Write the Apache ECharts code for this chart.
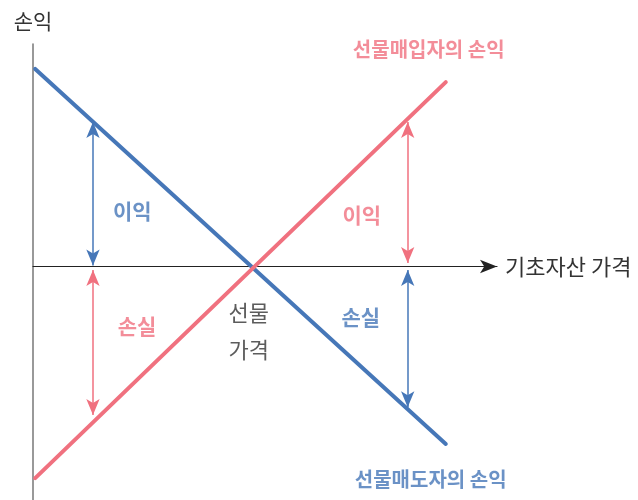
<!DOCTYPE html>
<html lang="ko">
<head>
    <meta charset="UTF-8">
    <title>선물 손익</title>
    <style>
        html, body { margin: 0; padding: 0; background: #fff; }
        #main { width: 638px; height: 500px; }
    </style>
</head>
<body>
<div id="main"></div>
<script src="https://cdn.jsdelivr.net/npm/echarts@6/dist/echarts.min.js"></script>
<script>
    // 기초자산 가격 (선 양 끝)
    var prices = [0.1, 18.86];
    // 선물매입자 / 선물매도자 손익
    var buyerPnl = [-9.66, 8.42];
    var sellerPnl = [9.02, -8.1];

    // 이익/손실 화살표 [x, 위, 아래]
    var blueArrows = [[2.74, 6.6, 0.05], [17.12, -0.16, -6.42]];
    var redArrows = [[2.74, -0.16, -6.78], [17.12, 6.6, 0.16]];

    // 글자 [text, x, y]
    var blueNotes = [['이익', 4.54, 2.55], ['손실', 14.98, -2.3]];
    var redNotes = [['손실', 4.75, -2.72], ['이익', 15.02, 2.35]];
    var sellerTitle = [['선물매도자의 손익', 18.17, -9.7]];
    var buyerTitle = [['선물매입자의 손익', 18.08, 9.9]];
    var blackNotes = [['선물\n가격', 9.86, -2.97]];

    var BLUE = '#4677b8';
    var RED = '#f0717f';
    var FONT = '"Noto Sans CJK KR", "Noto Sans", sans-serif';

    var chart = echarts.init(document.getElementById('main'));

    function pairs(xs, ys) {
        return xs.map(function (x, i) { return [x, ys[i]]; });
    }

    function arrowLines(list) {
        return list.map(function (a) {
            return [{coord: [a[0], a[1]]}, {coord: [a[0], a[2]]}];
        });
    }

    function noteSeries(list, color, size, bold, lh) {
        return {
            type: 'scatter',
            symbolSize: 0,
            silent: true,
            z: 5,
            data: list.map(function (n) { return {value: [n[1], n[2]], name: n[0]}; }),
            label: {
                show: true,
                position: 'inside',
                formatter: '{b}',
                color: color,
                fontFamily: FONT,
                fontSize: size,
                fontWeight: bold ? 'bold' : 'normal',
                lineHeight: lh || size
            }
        };
    }

    function pnlSeries(ys, color, arrows) {
        return {
            type: 'line',
            data: pairs(prices, ys),
            symbol: 'none',
            silent: true,
            lineStyle: {color: color, width: 4, cap: 'round'},
            markLine: {
                silent: true,
                symbol: ['arrow', 'arrow'],
                symbolSize: [10, 16],
                label: {show: false},
                lineStyle: {color: color, width: 1.5, type: 'solid'},
                data: arrowLines(arrows)
            }
        };
    }

    chart.setOption({
        animation: false,
        backgroundColor: '#fff',
        grid: {left: 33, top: 44, right: 141, bottom: 0},
        xAxis: {
            type: 'value',
            min: 0,
            max: 21.2,
            name: '기초자산 가격',
            nameLocation: 'end',
            nameGap: 8,
            nameTextStyle: {color: '#333', fontSize: 22, fontFamily: FONT, align: 'left', verticalAlign: 'middle'},
            axisLine: {onZero: true, lineStyle: {color: '#222', width: 1.2}, symbol: ['none', 'arrow'], symbolSize: [10, 17]},
            axisTick: {show: false},
            axisLabel: {show: false},
            splitLine: {show: false}
        },
        yAxis: {
            type: 'value',
            min: -10.66,
            max: 10.16,
            name: '손익',
            nameLocation: 'end',
            nameGap: 12,
            nameTextStyle: {color: '#333', fontSize: 21, fontFamily: FONT, align: 'center'},
            axisLine: {show: true, onZero: false, lineStyle: {color: '#777', width: 1.5}},
            axisTick: {show: false},
            axisLabel: {show: false},
            splitLine: {show: false}
        },
        series: [
            pnlSeries(sellerPnl, BLUE, blueArrows),
            pnlSeries(buyerPnl, RED, redArrows),
            noteSeries(blueNotes, BLUE, 21, true),
            noteSeries(sellerTitle, BLUE, 20, true),
            noteSeries(redNotes, RED, 21, true),
            noteSeries(buyerTitle, RED, 20, true),
            noteSeries(blackNotes, '#333', 22, false, 37)
        ]
    });
</script>
</body>
</html>
